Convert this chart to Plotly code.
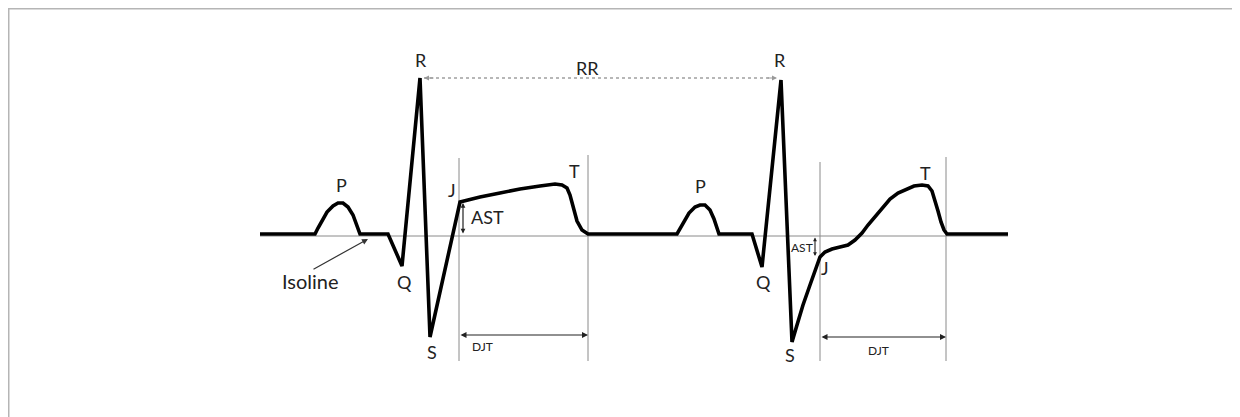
import plotly.graph_objects as go

# ECG trace: time (px-scale units) and amplitude (relative to isoline, up positive)
time = [260, 315, 318, 322, 327, 333, 338, 343, 348, 353, 357, 360, 388, 402, 420, 430, 460,
        480, 500, 520, 540, 555, 562, 567, 570, 573, 577, 582, 588, 677,
        680, 684, 689, 695, 700, 705, 710, 714, 717, 719, 752, 762, 781, 792,
        797, 803, 810, 816, 820, 825, 832, 840, 848, 855, 862, 868, 875, 883, 890,
        898, 906, 914, 922, 928, 932, 935, 938, 941, 944, 947, 1008]
amplitude = [1, 1, 7, 15, 23, 29, 32, 32, 28, 20, 10, 1, 1, -31, 157, -102, 33,
             38, 42, 46, 49, 51, 50, 47, 40, 28, 14, 5, 1, 1,
             6, 14, 22, 28, 30, 30, 25, 16, 8, 1, 1, -32, 155, -107,
             -90, -70, -50, -33, -22, -17, -14, -12, -10, -5, 2, 10, 18, 28, 36,
             42, 46, 49, 50, 49, 44, 35, 24, 13, 5, 1, 1]

# wave labels
label_text = ["P", "Q", "R", "S", "J", "T", "P", "Q", "R", "S", "J", "T"]
label_x = [341, 404, 421, 432, 452, 574, 700, 763, 780, 790, 825, 925]
label_y = [50, -47, 175, -117, 45, 64, 49, -47, 175, -120, -33, 62]

# interval markers
jt_start = [459, 820]
jt_end = [588, 946]
j_level = [33, -22]
rr_from, rr_to, rr_level = 421, 780, 157

fig = go.Figure()

# isoline (thin)
fig.add_trace(go.Scatter(x=[260, 1008], y=[-1, -1], mode="lines",
                         line=dict(color="#8a8a8a", width=1), hoverinfo="skip"))
# vertical J and T-end lines
for xs, top in zip(jt_start + jt_end, [77, 73, 80, 78]):
    fig.add_trace(go.Scatter(x=[xs, xs], y=[top, -126], mode="lines",
                             line=dict(color="#8a8a8a", width=1), hoverinfo="skip"))
# RR dotted line
fig.add_trace(go.Scatter(x=[rr_from + 3, rr_to - 3], y=[rr_level, rr_level], mode="lines",
                         line=dict(color="#a0a0a0", width=1.3, dash="dot"), hoverinfo="skip"))
# ECG trace
fig.add_trace(go.Scatter(x=time, y=amplitude, mode="lines",
                         line=dict(color="black", width=3.6), hoverinfo="skip"))

fam = "Lato, 'Open Sans', sans-serif"
font = dict(family=fam, size=18, color="#222")
for t, x, y in zip(label_text, label_x, label_y):
    fig.add_annotation(x=x, y=y, text=t, showarrow=False, font=font)

fig.add_annotation(x=587, y=167, text="RR", showarrow=False, font=font)
fig.add_annotation(x=310, y=-46, text="Isoline", showarrow=False, font=dict(family=fam, size=20, color="#222"))
fig.add_annotation(x=368, y=-4, ax=312, ay=-35, axref="x", ayref="y", text="",
                   showarrow=True, arrowhead=2, arrowsize=1, arrowwidth=1.2, arrowcolor="#333")

# RR arrow heads
fig.add_annotation(x=rr_from + 3, y=rr_level, ax=rr_from + 14, ay=rr_level, axref="x", ayref="y",
                   text="", showarrow=True, arrowhead=2, arrowsize=1, arrowwidth=1, arrowcolor="#999")
fig.add_annotation(x=rr_to - 3, y=rr_level, ax=rr_to - 14, ay=rr_level, axref="x", ayref="y",
                   text="", showarrow=True, arrowhead=2, arrowsize=1, arrowwidth=1, arrowcolor="#999")

# DJT arrows
for xs, xe, yy, tx, ty in zip(jt_start, jt_end, [-100, -102], [482, 878], [-111, -115]):
    fig.add_annotation(x=xe, y=yy, ax=xs, ay=yy, axref="x", ayref="y", text="",
                       showarrow=True, arrowhead=2, startarrowhead=2, arrowside="end+start",
                       arrowsize=1, arrowwidth=1.2, arrowcolor="#222")
    fig.add_annotation(x=tx, y=ty, text="DJT", showarrow=False,
                       font=dict(family=fam, size=12, color="#222"))

# AST arrows
fig.add_annotation(x=463, y=j_level[0] - 1, ax=463, ay=0, axref="x", ayref="y", text="",
                   showarrow=True, arrowhead=2, startarrowhead=2, arrowside="end+start",
                   arrowsize=0.8, arrowwidth=1.2, arrowcolor="#222")
fig.add_annotation(x=487, y=18, text="AST", showarrow=False, font=font)
fig.add_annotation(x=815, y=j_level[1] + 1, ax=815, ay=-1, axref="x", ayref="y", text="",
                   showarrow=True, arrowhead=2, startarrowhead=2, arrowside="end+start",
                   arrowsize=0.7, arrowwidth=1.1, arrowcolor="#222")
fig.add_annotation(x=802, y=-12, text="AST", showarrow=False,
                   font=dict(family=fam, size=12, color="#222"))

# frame (top and left edges)
fig.add_shape(type="line", xref="paper", yref="paper", x0=0, x1=1, y0=1, y1=1,
              line=dict(color="#b5b5b5", width=3))
fig.add_shape(type="line", xref="paper", yref="paper", x0=0, x1=0, y0=0, y1=1,
              line=dict(color="#b5b5b5", width=3))

# the page adds an 8px body margin, so the ranges are offset by 8 units
fig.update_layout(width=1240, height=417, margin=dict(l=0, r=0, t=0, b=0),
                  paper_bgcolor="white", plot_bgcolor="white", showlegend=False,
                  xaxis=dict(range=[8, 1248], visible=False, fixedrange=True),
                  yaxis=dict(range=[-190, 227], visible=False, fixedrange=True))

fig.write_html("out.html", config=dict(displayModeBar=False))
